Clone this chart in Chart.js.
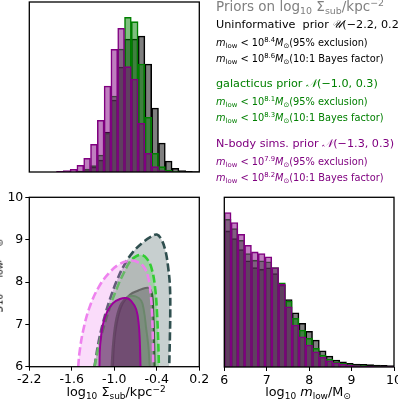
<!DOCTYPE html>
<html>
<head>
<meta charset="utf-8">
<script src="https://cdn.jsdelivr.net/npm/chart.js@4.4.0/dist/chart.umd.min.js"></script>
<style>
  html, body { margin: 0; padding: 0; background: #fff; }
  #wrap { position: relative; width: 398px; height: 400px; overflow: hidden; font-family: "DejaVu Sans", sans-serif; }
  #wrap canvas { position: absolute; left: 0; top: 0; }
  .t { position: absolute; white-space: nowrap; line-height: 1; }
  .head { font-size: 13.5px; }
  .big { font-size: 11.2px; }
  .small { font-size: 9.8px; }
  sub, sup { font-size: 70%; line-height: 0; position: relative; vertical-align: baseline; }
  sup { top: -0.5em; }
  sub { top: 0.3em; }
  .gray { color: #808080; }
  .green { color: green; }
  .purple { color: purple; }
  .ax { font-size: 12.8px; color: #000; }
</style>
</head>
<body>
<div id="wrap">
  <canvas id="topHist" width="398" height="400"></canvas>
  <canvas id="contours" width="398" height="400"></canvas>
  <canvas id="massHist" width="398" height="400"></canvas>

  <div class="t head gray" style="left:216px;top:0px;">Priors on log<sub>10</sub> Σ<sub>sub</sub>/kpc<sup>−2</sup></div>
  <div class="t big" style="left:216px;top:19px;">Uninformative&nbsp; prior <i>𝒰</i>(−2.2, 0.2)</div>
  <div class="t small" style="left:216px;top:37.5px;"><i>m</i><sub>low</sub> &lt; 10<sup>8.4</sup><i>M</i><sub>⊙</sub>(95% exclusion)</div>
  <div class="t small" style="left:216px;top:53.5px;"><i>m</i><sub>low</sub> &lt; 10<sup>8.6</sup><i>M</i><sub>⊙</sub>(10:1 Bayes factor)</div>
  <div class="t big green" style="left:216px;top:77.5px;">galacticus prior <i>𝒩</i>(−1.0, 0.3)</div>
  <div class="t small green" style="left:216px;top:96.5px;"><i>m</i><sub>low</sub> &lt; 10<sup>8.1</sup><i>M</i><sub>⊙</sub>(95% exclusion)</div>
  <div class="t small green" style="left:216px;top:112.5px;"><i>m</i><sub>low</sub> &lt; 10<sup>8.3</sup><i>M</i><sub>⊙</sub>(10:1 Bayes factor)</div>
  <div class="t big purple" style="left:216px;top:137.5px;">N-body sims. prior <i>𝒩</i>(−1.3, 0.3)</div>
  <div class="t small purple" style="left:216px;top:156.5px;"><i>m</i><sub>low</sub> &lt; 10<sup>7.9</sup><i>M</i><sub>⊙</sub>(95% exclusion)</div>
  <div class="t small purple" style="left:216px;top:172.5px;"><i>m</i><sub>low</sub> &lt; 10<sup>8.2</sup><i>M</i><sub>⊙</sub>(10:1 Bayes factor)</div>

  <div class="t ax" style="left:116px;top:386px;transform:translateX(-50%);">log<sub>10</sub> Σ<sub>sub</sub>/kpc<sup>−2</sup></div>
  <div class="t ax" style="left:308px;top:386px;transform:translateX(-50%);">log<sub>10</sub> <i>m</i><sub>low</sub>/M<sub>⊙</sub></div>
  <div class="t ax" style="left:-4px;top:282px;transform:translate(-50%,-50%) rotate(-90deg);">log<sub>10</sub> <i>m</i><sub>low</sub>/M<sub>⊙</sub></div>
</div>

<script>
// ---- data ----
// top panel: histogram of log10 Sigma_sub, 25 bins over [-2.2, 0.2]
const sigmaBins = [-2.152, -2.056, -1.960, -1.864, -1.768, -1.672, -1.576, -1.480, -1.384, -1.288,
                   -1.192, -1.096, -1.000, -0.904, -0.808, -0.712, -0.616, -0.520, -0.424, -0.328,
                   -0.232, -0.136, -0.040, 0.056, 0.152];
const sigmaUninf = [0, 0, 0, 0, 0, 0, 0, 0.5, 1.5, 5, 12, 40, 72, 105, 133, 133, 136, 108, 64, 29, 11, 3.7, 1.3, 0.7, 0.3];
const sigmaGalac = [0, 0, 0, 0, 0, 0, 0, 1, 3, 6.3, 17, 38.7, 76, 123, 154.7, 150.3, 108, 54.7, 18.7, 5.3, 2, 0.5, 0, 0, 0];
const sigmaNbody = [0, 0, 0, 0, 0.7, 1.3, 2.7, 6.7, 13.7, 27.7, 51.7, 86, 122.7, 143.7, 105.3, 93, 48.7, 18.7, 5.3, 1.3, 0.3, 0, 0, 0, 0];

// right panel: histogram of log10 m_low, 25 bins over [6, 10]
const massBins = [6.08, 6.24, 6.40, 6.56, 6.72, 6.88, 7.04, 7.20, 7.36, 7.52, 7.68, 7.84, 8.00,
                  8.16, 8.32, 8.48, 8.64, 8.80, 8.96, 9.12, 9.28, 9.44, 9.60, 9.76, 9.92];
const massUninf = [136.3, 128.7, 117.7, 106.3, 99.7, 98, 99.3, 93.7, 82, 67.5, 54.3, 43.7, 35.8, 27, 16.3, 11, 7, 5.3, 3.7, 3, 2.7, 2.3, 2, 1.7, 1.5];
const massGalac = [148, 138.7, 127, 113.7, 107, 106.3, 105.3, 99.7, 84.3, 66, 48.7, 37, 28.7, 18.7, 12, 8, 5.3, 3.7, 2.5, 1.8, 1.3, 1, 0.8, 0.6, 0.5];
const massNbody = [154.7, 144.7, 133, 122, 115.3, 113.7, 110.3, 99.7, 82.7, 60.3, 42, 30.3, 22, 15.3, 9.7, 6.3, 4.3, 3, 2, 1.3, 1, 0.7, 0.5, 0.3, 0.3];

// bottom-left: credible contours [log10 Sigma_sub, log10 m_low]
const uninfOuter = [[-1.28, 6.0], [-1.22, 6.6], [-1.15, 7.1], [-1.06, 7.6], [-0.96, 8.05], [-0.86, 8.4], [-0.74, 8.7],
                    [-0.6, 8.93], [-0.48, 9.07], [-0.40, 9.12], [-0.34, 9.02], [-0.28, 8.75], [-0.24, 8.35],
                    [-0.215, 7.9], [-0.21, 7.3], [-0.215, 6.7], [-0.225, 6.0]];
const uninfInner = [[-1.02, 6.0], [-1.0, 6.6], [-0.95, 7.15], [-0.88, 7.5], [-0.78, 7.7], [-0.66, 7.8], [-0.56, 7.86],
                    [-0.5, 7.85], [-0.465, 7.7], [-0.45, 7.3], [-0.44, 6.8], [-0.43, 6.0]];
const galacOuter = [[-1.28, 6.0], [-1.2, 6.63], [-1.06, 7.42], [-0.94, 7.95], [-0.87, 8.2], [-0.78, 8.48], [-0.7, 8.6],
                    [-0.62, 8.64], [-0.54, 8.55], [-0.47, 8.3], [-0.42, 7.8], [-0.395, 7.2], [-0.38, 6.6], [-0.37, 6.0]];
const galacInner = [[-1.04, 6.0], [-1.015, 6.6], [-0.97, 7.15], [-0.9, 7.5], [-0.8, 7.66], [-0.7, 7.66], [-0.62, 7.56],
                    [-0.58, 7.3], [-0.55, 6.9], [-0.52, 6.5], [-0.5, 6.0]];
const nbodyOuter = [[-1.51, 6.0], [-1.49, 6.35], [-1.44, 6.85], [-1.35, 7.4], [-1.22, 7.88], [-1.07, 8.22], [-0.93, 8.42],
                    [-0.8, 8.5], [-0.68, 8.48], [-0.58, 8.35], [-0.52, 8.1], [-0.485, 7.7], [-0.465, 7.2], [-0.455, 6.6], [-0.45, 6.0]];
const nbodyInner = [[-1.21, 6.0], [-1.2, 6.5], [-1.16, 7.0], [-1.1, 7.3], [-1.02, 7.5], [-0.92, 7.6], [-0.83, 7.62],
                    [-0.76, 7.55], [-0.69, 7.35], [-0.655, 7.0], [-0.64, 6.6], [-0.63, 6.0]];

const sigmaTicks = [-2.2, -1.6, -1.0, -0.4, 0.2];
const massTicks = [6, 7, 8, 9, 10];

// ---- helpers ----
const tickFont = { family: 'DejaVu Sans', size: 12.5 };

// black box around every panel
const framePlugin = {
    id: 'frame',
    afterDraw(chart) {
        const { ctx, chartArea: a } = chart;
        ctx.save();
        ctx.strokeStyle = '#000';
        ctx.lineWidth = 1.3;
        ctx.strokeRect(a.left, a.top, a.right - a.left, a.bottom - a.top);
        ctx.restore();
    }
};

function toXY(xs, ys) {
    return xs.map((x, i) => ({ x: x, y: ys[i] }));
}

function histSet(xs, ys, fill, edge, order) {
    return {
        data: toXY(xs, ys),
        backgroundColor: fill,
        borderColor: edge,
        borderWidth: 0.9,
        borderSkipped: 'start',
        barPercentage: 1,
        categoryPercentage: 1,
        grouped: false,
        order: order
    };
}

function contourSet(pts, line, fill, dashed, order) {
    return {
        data: pts.map(p => ({ x: p[0], y: p[1] })),
        borderColor: line,
        backgroundColor: fill,
        borderWidth: dashed ? 2.6 : 2,
        borderDash: dashed ? [8, 3.5] : [],
        pointRadius: 0,
        tension: 0.4,
        fill: 'shape',
        order: order
    };
}

const baseOpts = {
    responsive: false,
    animation: false,
    devicePixelRatio: 1,
    events: [],
    plugins: { legend: { display: false }, tooltip: { enabled: false } }
};

// ---- top histogram ----
new Chart(document.getElementById('topHist'), {
    type: 'bar',
    data: {
        datasets: [
            histSet(sigmaBins, sigmaUninf, 'rgba(0,0,0,0.5)', '#000', 3),
            histSet(sigmaBins, sigmaGalac, 'rgba(0,128,0,0.5)', 'green', 2),
            histSet(sigmaBins, sigmaNbody, 'rgba(128,0,128,0.5)', 'purple', 1)
        ]
    },
    options: {
        ...baseOpts,
        layout: { padding: { left: 29.3, right: 398 - 199.3, top: 2, bottom: 400 - 172 } },
        scales: {
            x: { type: 'linear', min: -2.2, max: 0.2, offset: false, display: false },
            y: { min: 0, max: 170, display: false }
        }
    },
    plugins: [framePlugin]
});

// ---- contour panel ----
new Chart(document.getElementById('contours'), {
    type: 'line',
    data: {
        datasets: [
            contourSet(uninfOuter, '#2f4f4f', 'rgba(47,79,79,0.27)', true, 6),
            contourSet(uninfInner, '#333333', 'rgba(20,20,20,0.42)', false, 5),
            contourSet(galacOuter, 'limegreen', 'rgba(50,205,50,0.28)', true, 4),
            contourSet(galacInner, '#3a8a3a', 'rgba(34,139,34,0.3)', false, 3),
            contourSet(nbodyOuter, 'violet', 'rgba(238,130,238,0.28)', true, 2),
            contourSet(nbodyInner, '#9a009a', 'rgba(100,0,100,0.45)', false, 1)
        ]
    },
    options: {
        ...baseOpts,
        layout: { padding: { left: 0, right: 398 - 199.3, top: 197.3, bottom: 400 - 366.7 - 20 } },
        scales: {
            x: {
                type: 'linear', min: -2.2, max: 0.2,
                afterBuildTicks: s => { s.ticks = sigmaTicks.map(v => ({ value: v })); },
                afterFit: s => { s.height = 20; s.paddingLeft = 0; s.paddingRight = 0; },
                ticks: { font: tickFont, color: '#000', padding: 2, maxRotation: 0, callback: v => v.toFixed(1) },
                grid: { display: true, drawOnChartArea: false, tickLength: 4, color: '#000' },
                border: { display: false }
            },
            y: {
                type: 'linear', min: 6, max: 10,
                afterBuildTicks: s => { s.ticks = massTicks.map(v => ({ value: v })); },
                afterFit: s => { s.width = 29.3; s.paddingTop = 0; s.paddingBottom = 0; },
                ticks: { font: tickFont, color: '#000', padding: 2 },
                grid: { display: true, drawOnChartArea: false, tickLength: 4, color: '#000' },
                border: { display: false }
            }
        }
    },
    plugins: [framePlugin]
});

// ---- right histogram ----
new Chart(document.getElementById('massHist'), {
    type: 'bar',
    data: {
        datasets: [
            histSet(massBins, massUninf, 'rgba(0,0,0,0.5)', '#000', 3),
            histSet(massBins, massGalac, 'rgba(0,128,0,0.5)', 'green', 2),
            histSet(massBins, massNbody, 'rgba(128,0,128,0.5)', 'purple', 1)
        ]
    },
    options: {
        ...baseOpts,
        layout: { padding: { left: 224.3, right: 4, top: 197.3, bottom: 400 - 367 - 20 } },
        scales: {
            x: {
                type: 'linear', min: 6, max: 10, offset: false,
                afterBuildTicks: s => { s.ticks = massTicks.map(v => ({ value: v })); },
                afterFit: s => { s.height = 20; s.paddingLeft = 0; s.paddingRight = 0; },
                ticks: { font: tickFont, color: '#000', padding: 2, maxRotation: 0 },
                grid: { display: true, offset: false, drawOnChartArea: false, tickLength: 4, color: '#000' },
                border: { display: false }
            },
            y: { min: 0, max: 170, display: false }
        }
    },
    plugins: [framePlugin]
});
</script>
</body>
</html>
